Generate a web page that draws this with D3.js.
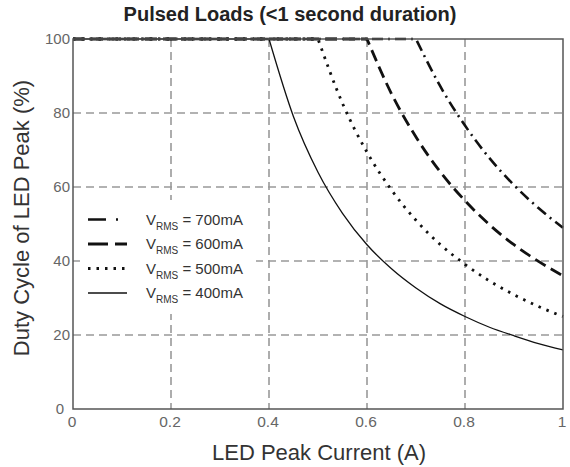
<!DOCTYPE html>
<html>
  <head>
    <meta charset="UTF-8" />
    <title>Pulsed Loads</title>
    <style>
      body { margin: 0; background: #fff; }
      text { font-family: "Liberation Sans", Arial, sans-serif; }
    </style>
  </head>
  <body>
    <svg width="570" height="467"></svg>

    <script src="https://d3js.org/d3.v7.min.js"></script>
    <script>
      // peak current (A)
      const current = [0, 0.1, 0.2, 0.3, 0.4, 0.45, 0.5, 0.55, 0.6, 0.65, 0.7, 0.75, 0.8, 0.85, 0.9, 0.95, 1.0];
      // duty cycle (%)
      const duty700 = [100, 100, 100, 100, 100, 100, 100, 100, 100, 100, 100, 87.1, 76.6, 67.8, 60.5, 54.3, 49];
      const duty600 = [100, 100, 100, 100, 100, 100, 100, 100, 100, 85.2, 73.5, 64, 56.3, 49.8, 44.4, 39.9, 36];
      const duty500 = [100, 100, 100, 100, 100, 100, 100, 82.6, 69.4, 59.2, 51, 44.4, 39.1, 34.6, 30.9, 27.7, 25];
      const duty400 = [100, 100, 100, 100, 100, 79, 64, 52.9, 44.4, 37.9, 32.7, 28.4, 25, 22.1, 19.8, 17.7, 16];

      const xTicks = [0, 0.2, 0.4, 0.6, 0.8, 1];
      const yTicks = [0, 20, 40, 60, 80, 100];

      const series = [
        { label: "700mA", values: duty700, dash: "11,5,2,5", width: 2.6, legendDash: "18,10,2,20" },
        { label: "600mA", values: duty600, dash: "12,6", width: 2.8, legendDash: "20,7" },
        { label: "500mA", values: duty500, dash: "2.5,6", width: 2.8, legendDash: "2.5,6" },
        { label: "400mA", values: duty400, dash: null, width: 1.3, legendDash: null },
      ];

      const svg = d3.select("svg");
      const plotL = 73, plotR = 563, plotT = 39, plotB = 409;

      const x = d3.scaleLinear().domain([0, 1]).range([plotL, plotR]);
      const y = d3.scaleLinear().domain([0, 100]).range([plotB, plotT]);

      // 网格
      const grid = svg.append("g")
        .attr("stroke", "#999")
        .attr("stroke-width", 1.6)
        .attr("stroke-dasharray", "8,5");
      grid.selectAll(".gx")
        .data(xTicks.slice(1, -1))
        .enter()
        .append("line")
        .attr("x1", (d) => x(d)).attr("x2", (d) => x(d))
        .attr("y1", plotT).attr("y2", plotB);
      grid.selectAll(".gy")
        .data(yTicks.slice(1, -1))
        .enter()
        .append("line")
        .attr("x1", plotL).attr("x2", plotR)
        .attr("y1", (d) => y(d)).attr("y2", (d) => y(d));

      // 曲线: flat part straight, falling part smooth (keeps the sharp knee)
      const curved = d3.line()
        .x((d) => x(d[0]))
        .y((d) => y(d[1]))
        .curve(d3.curveMonotoneX);

      function pathFor(s) {
        const pts = current.map((c, i) => [c, s.values[i]]);
        const knee = pts.findIndex((p, i) => i < pts.length - 1 && pts[i + 1][1] < 100);
        const flat = `M${x(pts[0][0])},${y(pts[0][1])}L${x(pts[knee][0])},${y(pts[knee][1])}`;
        return flat + curved(pts.slice(knee)).replace(/^M/, "L");
      }

      svg.append("g")
        .selectAll("path")
        .data(series)
        .enter()
        .append("path")
        .attr("d", pathFor)
        .attr("fill", "none")
        .attr("stroke", "#111")
        .attr("stroke-width", (s) => s.width)
        .attr("stroke-dasharray", (s) => s.dash);

      // 边框
      svg.append("rect")
        .attr("x", plotL).attr("y", plotT)
        .attr("width", plotR - plotL).attr("height", plotB - plotT)
        .attr("fill", "none")
        .attr("stroke", "#555")
        .attr("stroke-width", 1.5);

      // 刻度
      svg.selectAll(".xt")
        .data(xTicks)
        .enter()
        .append("text")
        .attr("x", (d) => x(d) - 1)
        .attr("y", 427)
        .attr("text-anchor", "middle")
        .attr("font-size", 15.5)
        .attr("fill", "#666")
        .text((d) => d);
      svg.selectAll(".yt")
        .data(yTicks)
        .enter()
        .append("text")
        .attr("x", (d) => (d === 0 ? 64 : 70))
        .attr("y", (d) => y(d) + 5)
        .attr("text-anchor", "end")
        .attr("font-size", 15)
        .attr("fill", "#666")
        .text((d) => d);

      // 标题
      svg.append("text")
        .attr("x", 290).attr("y", 21)
        .attr("text-anchor", "middle")
        .attr("font-size", 20)
        .attr("font-weight", "bold")
        .attr("fill", "#222")
        .text("Pulsed Loads (<1 second duration)");
      svg.append("text")
        .attr("x", 319).attr("y", 460)
        .attr("text-anchor", "middle")
        .attr("font-size", 22)
        .attr("fill", "#333")
        .text("LED Peak Current (A)");
      svg.append("text")
        .attr("transform", "translate(29,218) rotate(-90)")
        .attr("text-anchor", "middle")
        .attr("font-size", 22)
        .attr("fill", "#333")
        .text("Duty Cycle of LED Peak (%)");

      // 图例
      const legend = svg.append("g");
      legend.append("rect")
        .attr("x", 80).attr("y", 200)
        .attr("width", 176).attr("height", 114)
        .attr("fill", "#fff");
      const rows = legend.selectAll(".lg")
        .data(series)
        .enter()
        .append("g")
        .attr("transform", (d, i) => `translate(0,${219.5 + i * 24.5})`);
      rows.append("line")
        .attr("x1", 88).attr("x2", 127)
        .attr("stroke", "#111")
        .attr("stroke-width", (s) => s.width)
        .attr("stroke-dasharray", (s) => s.legendDash);
      const t = rows.append("text")
        .attr("x", 146).attr("y", 5)
        .attr("font-size", 15)
        .attr("fill", "#333");
      t.append("tspan").text("V");
      t.append("tspan").attr("font-size", 10).attr("dy", 5).text("RMS");
      t.append("tspan").attr("dy", -5).text(" = ");
      t.append("tspan").text((s) => s.label);
    </script>
  </body>
</html>
